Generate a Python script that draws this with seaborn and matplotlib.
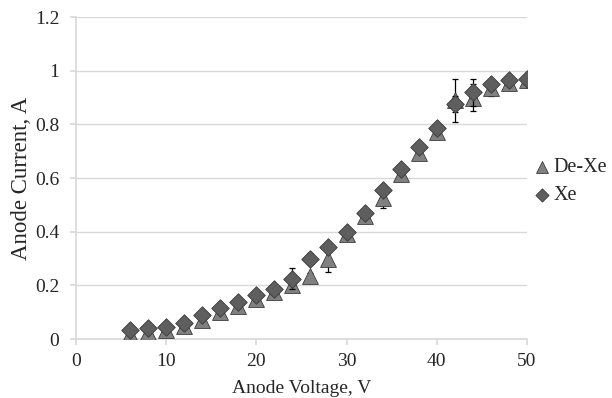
import numpy as np
import pandas as pd
import matplotlib
matplotlib.use("Agg")
import matplotlib.pyplot as plt
import seaborn as sns

voltage = [6, 8, 10, 12, 14, 16, 18, 20, 22, 24, 26, 28, 30, 32, 34, 36, 38, 40, 42, 44, 46, 48, 50]
dexe = [0.02, 0.025, 0.035, 0.05, 0.07, 0.10, 0.125, 0.15, 0.175, 0.20, 0.235, 0.30,
        0.39, 0.46, 0.525, 0.615, 0.695, 0.77, 0.89, 0.90, 0.935, 0.955, 0.965]
dexe_err = [0.008, 0.008, 0.008, 0.008, 0.008, 0.008, 0.01, 0.01, 0.01, 0.015, 0.01, 0.05,
            0.015, 0.015, 0.035, 0.02, 0.015, 0.02, 0.08, 0.05, 0.03, 0.015, 0.01]
xe = [0.035, 0.04, 0.045, 0.06, 0.09, 0.115, 0.14, 0.165, 0.185, 0.225, 0.30, 0.345,
      0.40, 0.47, 0.555, 0.635, 0.715, 0.785, 0.875, 0.92, 0.95, 0.965, 0.97]
xe_err = [0.008, 0.008, 0.008, 0.008, 0.008, 0.008, 0.01, 0.01, 0.01, 0.04, 0.02, 0.015,
          0.015, 0.015, 0.02, 0.015, 0.015, 0.02, 0.03, 0.05, 0.02, 0.015, 0.01]
xticks = [0, 10, 20, 30, 40, 50]
yticks = [0, 0.2, 0.4, 0.6, 0.8, 1, 1.2]
ytick_labels = ["0", "0.2", "0.4", "0.6", "0.8", "1", "1.2"]

sns.set_theme(style="white")
plt.rcParams['font.family'] = ['Liberation Serif', 'DejaVu Serif']

fig = plt.figure(figsize=(6.12, 3.98), dpi=100)
ax = fig.add_axes([0.124, 0.148, 0.737, 0.809])

series = [
    ("De-Xe", dexe, dexe_err, "^", "#808080", 130),
    ("Xe", xe, xe_err, "D", "#5e5e5e", 80),
]

for i, (name, vals, errs, mk, color, size) in enumerate(series):
    ax.errorbar(voltage, vals, yerr=errs, fmt="none", ecolor="black",
                elinewidth=0.9, capsize=2, capthick=0.9, zorder=2 + 2 * i)
    sub = pd.DataFrame({"V": voltage, "I": vals})
    sns.scatterplot(data=sub, x="V", y="I", marker=mk, color=color, s=size,
                    edgecolor="#3a3a3a", linewidth=0.6, ax=ax, zorder=3 + 2 * i, label=name)

ax.set_xlim(0, 50)
ax.set_ylim(0, 1.2)
ax.set_xticks(xticks)
ax.set_yticks(yticks)
ax.set_yticklabels(ytick_labels)
ax.yaxis.grid(True, color="#d9d9d9", linewidth=1.0)
ax.xaxis.grid(False)
ax.set_axisbelow(True)
for s in ["top", "right"]:
    ax.spines[s].set_visible(False)
ax.spines["left"].set_color("#d9d9d9")
ax.spines["bottom"].set_color("#d9d9d9")
ax.tick_params(axis="x", direction="out", length=4, color="#d9d9d9", labelsize=14, pad=6)
ax.tick_params(axis="y", direction="out", length=4, color="#d9d9d9", labelsize=14, pad=8)
ax.tick_params(bottom=True, left=True)
ax.set_xlabel("Anode Voltage, V", fontsize=14, labelpad=7)
ax.set_ylabel("Anode Current, A", fontsize=16.5, labelpad=2)

leg = ax.legend(loc="center left", bbox_to_anchor=(1.005, 0.49), frameon=False,
                fontsize=14.5, handletextpad=0.2, handlelength=0.7, labelspacing=0.45,
                markerscale=0.75, borderaxespad=0.3, borderpad=0)

fig.savefig("out.png", dpi=100)
